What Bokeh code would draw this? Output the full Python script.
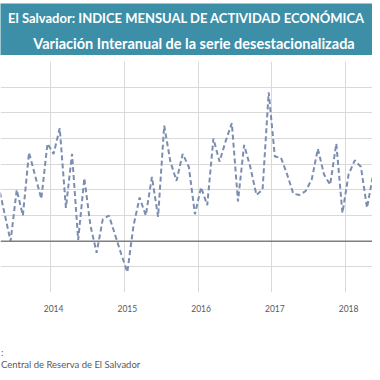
import pandas as pd
from bokeh.plotting import figure
from bokeh.layouts import column
from bokeh.models import FixedTicker, Span, Range1d
from bokeh.core.properties import value
from bokeh.embed import file_html
from bokeh.resources import INLINE

# ---------------- data ----------------
title_1 = "El Salvador: INDICE MENSUAL DE ACTIVIDAD ECONÓMICA"
title_2 = "Variación Interanual de la serie desestacionalizada"
source_1 = ":"
source_2 = "Central de Reserva de El Salvador"

first_month = "2013-04"
variacion = [
    2.2, 1.1, 0.0, 2.0, 1.0, 3.45, 2.55, 1.65, 3.8,          # abr-dic 2013
    3.4, 4.4, 1.3, 3.4, 0.05, 2.45, 0.6, -0.45, 0.85, 1.0, 0.25, -0.5,   # 2014
    -1.2, 0.6, 1.7, 1.0, 2.5, 0.95, 4.5, 3.1, 2.35, 3.4, 2.9, 1.05,     # 2015
    2.1, 1.4, 4.0, 3.1, 3.9, 4.6, 1.55, 3.75, 2.9, 1.8, 2.0, 5.8,       # 2016
    3.3, 3.25, 2.6, 1.85, 1.8, 1.95, 2.4, 3.6, 2.6, 2.2, 3.8, 1.1,      # 2017
    2.6, 3.15, 2.9, 1.3, 2.6, 2.75, 2.7,                                # 2018
]
year_ticks = [2014, 2015, 2016, 2017, 2018]
year_labels = ["2014", "2015", "2016", "2017", "2018"]
y_ticks = [-2, -1, 0, 1, 2, 3, 4, 5, 6, 7]

# months since Jan 2014
meses = pd.period_range(first_month, periods=len(variacion), freq="M")
x_mes = [(m.year - 2014) * 12 + (m.month - 1) for m in meses]

TEAL = "#3d8fa8"
GRAY_TXT = "#595959"
W = 372

# ---------------- banner ----------------
b = figure(width=W, height=55, x_range=Range1d(0, W), y_range=Range1d(0, 52),
           output_backend="svg", toolbar_location=None,
           x_axis_location=None, y_axis_location=None,
           min_border_left=0, min_border_right=0, min_border_bottom=0, min_border_top=3,
           background_fill_color=TEAL, border_fill_color="white", outline_line_color=None)
b.grid.visible = False
b.text(x=[186], y=[37.5], text=[title_1],
       text_align="center", text_baseline="middle", text_color="white",
       text_font=value("Lato"), text_font_style="bold", text_font_size="13px")
b.text(x=[193.5], y=[12], text=[title_2],
       text_align="center", text_baseline="middle", text_color="white",
       text_font=value("Lato"), text_font_style="bold", text_font_size="14.5px")

# ---------------- main chart ----------------
tick_pos = [(y - 2014) * 12 for y in year_ticks]
grid_pos = [t - 0.5 for t in tick_pos]

p = figure(width=W, height=260, x_range=Range1d(-8.64, 51.89), y_range=Range1d(-2, 7),
           output_backend="svg", toolbar_location=None, y_axis_location=None,
           min_border_left=0, min_border_right=0, min_border_top=6, min_border_bottom=23,
           outline_line_color=None)
p.xgrid.ticker = FixedTicker(ticks=grid_pos)
p.ygrid.ticker = FixedTicker(ticks=y_ticks)
p.grid.grid_line_color = "#d9d9d9"
p.grid.grid_line_width = 1

p.xaxis.ticker = FixedTicker(ticks=tick_pos)
p.xaxis.major_label_overrides = {t: l for t, l in zip(tick_pos, year_labels)}
p.xaxis.axis_line_color = None
p.xaxis.major_tick_line_color = None
p.xaxis.minor_tick_line_color = None
p.xaxis.major_label_standoff = 6
p.xaxis.major_label_text_font = "Lato"
p.xaxis.major_label_text_font_size = "8.5px"
p.xaxis.major_label_text_color = GRAY_TXT

p.add_layout(Span(location=0, dimension="width", line_color="#7f7f7f", line_width=1.5))
p.line(x_mes, variacion, line_color="#7b8db0", line_width=2, line_dash="5 3")

# ---------------- footer ----------------
f = figure(width=W, height=57, x_range=Range1d(0, W), y_range=Range1d(0, 57),
           output_backend="svg", toolbar_location=None,
           x_axis_location=None, y_axis_location=None, min_border=0,
           outline_line_color=None)
f.grid.visible = False
f.text(x=[0.5], y=[20], text=[source_1], text_align="left", text_baseline="middle",
       text_color=GRAY_TXT, text_font=value("Lato"), text_font_size="9.5px")
f.text(x=[0.5], y=[8], text=[source_2], text_align="left", text_baseline="middle",
       text_color=GRAY_TXT, text_font=value("Lato"), text_font_size="9.5px")

layout = column(b, p, f, spacing=0)
open("out.html", "w").write(file_html(layout, INLINE))
